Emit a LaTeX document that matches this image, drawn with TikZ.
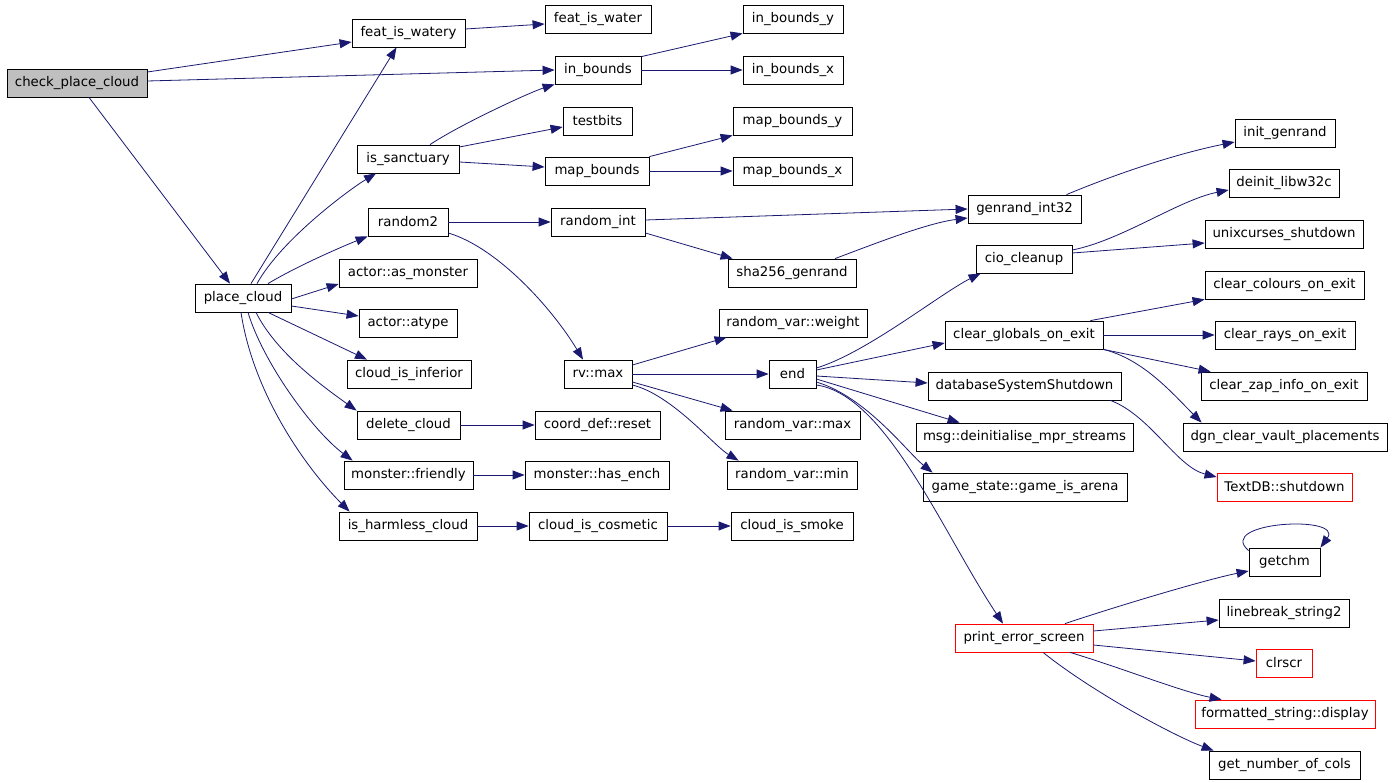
\documentclass[tikz,border=0pt]{standalone}
\usepackage{fontspec}
\setmainfont{DejaVu Sans}
\usetikzlibrary{arrows.meta,calc}
\definecolor{edgeblue}{HTML}{191970}
\definecolor{rootgray}{HTML}{BFBFBF}
\tikzset{
  box/.style={draw=black, line width=0.8pt, inner sep=0pt, font=\fontsize{13.3}{16}\selectfont, text=black},
  redbox/.style={draw=red},
  cg/.style={draw=edgeblue, line width=0.8pt, -{Triangle[length=12pt,width=9pt]}}
}
\newcommand{\gnd}[7][]{\node[box,#1,minimum width={(#4-#2)*1pt},minimum height={(#5-#3)*1pt}] (#6) at ({(#2+#4)/2},{(#3+#5)/2}) {#7};}
\begin{document}
\begin{tikzpicture}[x=1pt,y=-1pt]
\useasboundingbox[fill=white] (0,0) rectangle (1392,783);
% nodes
\gnd[fill=rootgray]{7}{69}{147}{97}{cpc}{check\_place\_cloud}
\gnd{352}{19}{465}{47}{fiw}{feat\_is\_watery}
\gnd{545}{5}{651}{33}{fiwa}{feat\_is\_water}
\gnd{555}{56}{641}{84}{ibd}{in\_bounds}
\gnd{743}{5}{843}{33}{iby}{in\_bounds\_y}
\gnd{743}{56}{843}{84}{ibx}{in\_bounds\_x}
\gnd{357}{145}{459}{173}{san}{is\_sanctuary}
\gnd{563}{107}{632}{135}{tb}{testbits}
\gnd{545}{157}{649}{185}{mb}{map\_bounds}
\gnd{733}{107}{852}{135}{mby}{map\_bounds\_y}
\gnd{733}{157}{852}{185}{mbx}{map\_bounds\_x}
\gnd{195}{284}{291}{312}{pc}{place\_cloud}
\gnd{368}{208}{448}{236}{r2}{random2}
\gnd{551}{208}{645}{236}{ri}{random\_int}
\gnd{728}{259}{856}{287}{sha}{sha256\_genrand}
\gnd{968}{195}{1081}{223}{gi}{genrand\_int32}
\gnd{1235}{119}{1335}{147}{ig}{init\_genrand}
\gnd{339}{259}{477}{287}{am}{actor::as\_monster}
\gnd{359}{309}{457}{337}{at}{actor::atype}
\gnd{347}{360}{471}{388}{cii}{cloud\_is\_inferior}
\gnd{564}{360}{632}{388}{rvm}{rv::max}
\gnd{719}{309}{867}{337}{rvw}{random\_var::weight}
\gnd{769}{360}{816}{388}{end}{end}
\gnd{725}{411}{860}{439}{rvmax}{random\_var::max}
\gnd{727}{461}{857}{489}{rvmin}{random\_var::min}
\gnd{357}{411}{460}{439}{dc}{delete\_cloud}
\gnd{535}{411}{660}{439}{cdr}{coord\_def::reset}
\gnd{344}{461}{473}{489}{mf}{monster::friendly}
\gnd{525}{461}{669}{489}{mhe}{monster::has\_ench}
\gnd{339}{512}{477}{540}{ihc}{is\_harmless\_cloud}
\gnd{529}{512}{667}{540}{cic}{cloud\_is\_cosmetic}
\gnd{731}{512}{853}{540}{cis}{cloud\_is\_smoke}
\gnd{976}{245}{1072}{273}{cio}{cio\_cleanup}
\gnd{1229}{169}{1339}{197}{dl}{deinit\_libw32c}
\gnd{1205}{220}{1363}{248}{us}{unixcurses\_shutdown}
\gnd{945}{321}{1103}{349}{cgoe}{clear\_globals\_on\_exit}
\gnd{1205}{271}{1364}{299}{ccoe}{clear\_colours\_on\_exit}
\gnd{1215}{321}{1355}{349}{croe}{clear\_rays\_on\_exit}
\gnd{1201}{372}{1367}{400}{czoe}{clear\_zap\_info\_on\_exit}
\gnd{1183}{423}{1387}{451}{dcvp}{dgn\_clear\_vault\_placements}
\gnd{928}{372}{1121}{400}{dss}{databaseSystemShutdown}
\gnd[redbox]{1217}{473}{1352}{501}{tdb}{TextDB::shutdown}
\gnd{916}{423}{1133}{451}{msg}{msg::deinitialise\_mpr\_streams}
\gnd{923}{473}{1127}{501}{gsa}{game\_state::game\_is\_arena}
\gnd[redbox]{955}{624}{1093}{652}{pes}{print\_error\_screen}
\gnd{1249}{548}{1320}{576}{gc}{getchm}
\gnd{1219}{599}{1349}{627}{lb}{linebreak\_string2}
\gnd[redbox]{1256}{649}{1312}{677}{cls}{clrscr}
\gnd[redbox]{1195}{700}{1375}{728}{fsd}{formatted\_string::display}
\gnd{1209}{751}{1360}{779}{gnc}{get\_number\_of\_cols}
% edges
\draw[cg] ($(cpc.east)+(0,-11)$) -- ($(fiw.west)+(0,9)$);
\draw[cg] ($(cpc.east)+(0,-2)$) -- (ibd.west);
\draw[cg] ($(cpc.south)+(12,0)$) -- ($(pc.north)+(-13,0)$);
\draw[cg] ($(pc.north)+(8,0)$) -- ($(fiw.south)+(-12,0)$);
\draw[cg] ($(pc.north)+(14,0)$) .. controls +(25,-45) and +(-25,15) .. ($(san.south)+(-32,0)$);
\draw[cg] ($(pc.north)+(25,0)$) .. controls +(30,-18) and +(-25,10) .. (r2.south west);
\draw[cg] ($(pc.east)+(0,1)$) -- ($(am.west)+(0,11)$);
\draw[cg] ($(pc.east)+(0,8)$) -- ($(at.west)+(0,-7)$);
\draw[cg] ($(pc.south)+(25,0)$) -- ($(cii.north)+(-42,0)$);
\draw[cg] ($(pc.south)+(13,0)$) .. controls +(20,40) and +(-35,-25) .. (dc.north west);
\draw[cg] ($(pc.south)+(5,0)$) .. controls +(15,50) and +(-40,-30) .. ($(mf.north west)+(9,0)$);
\draw[cg] ($(pc.south)+(-2,0)$) .. controls +(12,80) and +(-45,-45) .. ($(ihc.north west)+(11,0)$);
\draw[cg] ($(fiw.east)+(0,-4)$) -- ($(fiwa.west)+(0,5)$);
\draw[cg] ($(ibd.north east)+(0,1)$) -- (iby.south west);
\draw[cg] (ibd.east) -- (ibx.west);
\draw[cg] ($(san.north)+(22,0)$) .. controls +(30,-20) and +(-25,8) .. (ibd.south west);
\draw[cg] ($(san.east)+(0,-12)$) -- ($(tb.west)+(0,6)$);
\draw[cg] ($(san.east)+(0,3)$) -- ($(mb.west)+(0,-4)$);
\draw[cg] (mb.north east) -- (mby.south west);
\draw[cg] (mb.east) -- (mbx.west);
\draw[cg] (r2.east) -- (ri.west);
\draw[cg] ($(r2.east)+(0,11)$) .. controls +(50,15) and +(-30,-50) .. ($(rvm.north)+(-15,0)$);
\draw[cg] ($(ri.east)+(0,-2)$) -- (gi.west);
\draw[cg] ($(ri.east)+(0,11)$) -- ($(sha.north west)+(5,0)$);
\draw[cg] ($(sha.north)+(43,0)$) .. controls +(40,-15) and +(-40,5) .. ($(gi.west)+(0,9)$);
\draw[cg] ($(gi.north)+(42,0)$) .. controls +(60,-25) and +(-50,10) .. ($(ig.west)+(0,9)$);
\draw[cg] ($(rvm.east)+(0,-9)$) -- ($(rvw.south west)+(8,0)$);
\draw[cg] (rvm.east) -- (end.west);
\draw[cg] ($(rvm.east)+(0,8)$) -- ($(rvmax.north west)+(8,0)$);
\draw[cg] ($(rvm.east)+(0,11)$) .. controls +(40,10) and +(-25,-15) .. ($(rvmin.north west)+(12,0)$);
\draw[cg] ($(end.east)+(0,-6)$) .. controls +(50,-15) and +(-40,20) .. ($(cio.south west)+(5,0)$);
\draw[cg] ($(end.east)+(0,-4)$) -- ($(cgoe.west)+(0,8)$);
\draw[cg] ($(end.east)+(0,2)$) -- ($(dss.west)+(0,-3)$);
\draw[cg] ($(end.east)+(0,5)$) -- ($(msg.north west)+(44,0)$);
\draw[cg] ($(end.east)+(0,8)$) .. controls +(50,15) and +(-25,-20) .. ($(gsa.north west)+(10,0)$);
\draw[cg] ($(end.east)+(0,11)$) .. controls +(70,10) and +(-60,-90) .. ($(pes.north)+(-21,0)$);
\draw[cg] ($(cio.east)+(0,-9)$) .. controls +(50,-10) and +(-50,10) .. ($(dl.west)+(0,7)$);
\draw[cg] ($(cio.east)+(0,-6)$) -- ($(us.west)+(0,9)$);
\draw[cg] ($(cgoe.north east)+(-13,0)$) -- (ccoe.south west);
\draw[cg] (cgoe.east) -- (croe.west);
\draw[cg] (cgoe.south east) -- ($(czoe.north west)+(10,0)$);
\draw[cg] (cgoe.south east) .. controls +(40,10) and +(-30,-30) .. ($(dcvp.north west)+(19,0)$);
\draw[cg] ($(dss.south east)+(-11,0)$) .. controls +(40,15) and +(-40,-10) .. ($(tdb.west)+(0,-10)$);
\draw[cg] (dc.east) -- (cdr.west);
\draw[cg] (mf.east) -- (mhe.west);
\draw[cg] (ihc.east) -- (cic.west);
\draw[cg] (cic.east) -- (cis.west);
\draw[cg] ($(pes.north)+(41,0)$) .. controls +(60,-20) and +(-40,8) .. ($(gc.west)+(0,9)$);
\draw[cg] ($(pes.east)+(0,-7)$) -- ($(lb.west)+(0,7)$);
\draw[cg] ($(pes.east)+(0,7)$) -- ($(cls.west)+(0,-2)$);
\draw[cg] ($(pes.south)+(46,0)$) .. controls +(50,15) and +(-40,-8) .. ($(fsd.north west)+(27,0)$);
\draw[cg] ($(pes.south)+(19,0)$) .. controls +(50,40) and +(-40,-15) .. ($(gnc.north west)+(5,0)$);
\draw[cg] ($(gc.north west)+(0,3)$) .. controls +(-34,-29) and +(24,-33) .. (gc.north east);
\end{tikzpicture}
\end{document}
